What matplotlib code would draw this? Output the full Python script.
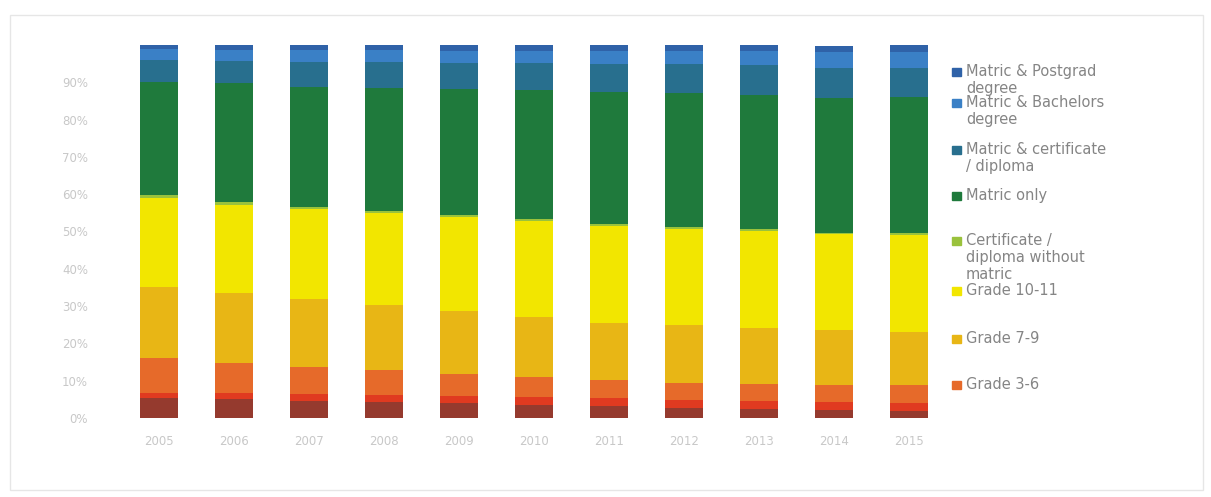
import matplotlib.pyplot as plt
from matplotlib.patches import Rectangle

# data (percent of population)
years = ['2005', '2006', '2007', '2008', '2009', '2010', '2011', '2012', '2013', '2014', '2015']

no_school = [5.4, 5.1, 4.6, 4.3, 4.0, 3.5, 3.2, 2.7, 2.4, 2.1, 1.9]
grade_0_2 = [1.3, 1.6, 1.9, 1.9, 1.9, 2.1, 2.1, 2.1, 2.1, 2.1, 2.1]
grade_3_6 = [9.4, 8.0, 7.2, 6.7, 5.9, 5.4, 4.8, 4.6, 4.6, 4.6, 4.8]
grade_7_9 = [19.0, 18.8, 18.2, 17.4, 16.9, 16.1, 15.5, 15.5, 15.0, 14.7, 14.2]
grade_10_11 = [23.9, 23.6, 24.1, 24.7, 25.2, 25.7, 26.0, 25.7, 26.0, 25.7, 26.0]
cert_no_matric = [0.7, 0.7, 0.6, 0.6, 0.6, 0.6, 0.5, 0.5, 0.5, 0.5, 0.5]
matric_only = [30.4, 32.0, 32.1, 32.9, 33.7, 34.5, 35.2, 36.0, 36.0, 36.2, 36.5]
matric_cert = [5.9, 5.9, 6.7, 7.0, 7.0, 7.2, 7.5, 7.8, 8.0, 8.0, 7.8]
bachelors = [2.8, 3.0, 3.2, 3.2, 3.3, 3.3, 3.5, 3.5, 3.7, 4.1, 4.4]
postgrad = [1.2, 1.3, 1.4, 1.4, 1.5, 1.5, 1.6, 1.6, 1.7, 1.8, 1.8]

# bottom to top
series = [
    (no_school, 'No schooling', '#953a2e'),
    (grade_0_2, 'Grade 0-2', '#e03a20'),
    (grade_3_6, 'Grade 3-6', '#e66a2a'),
    (grade_7_9, 'Grade 7-9', '#e8b615'),
    (grade_10_11, 'Grade 10-11', '#f2e600'),
    (cert_no_matric, 'Certificate /\ndiploma without\nmatric', '#9ac23c'),
    (matric_only, 'Matric only', '#1f7a3c'),
    (matric_cert, 'Matric & certificate\n/ diploma', '#286f8e'),
    (bachelors, 'Matric & Bachelors\ndegree', '#3a80c6'),
    (postgrad, 'Matric & Postgrad\ndegree', '#2f62a8'),
]

W, H = 1211, 497
fig = plt.figure(figsize=(W / 100, H / 100), dpi=100)
ax = fig.add_axes([121.5 / W, (H - 418) / H, 825 / W, 373 / H])

x = list(range(len(years)))
bottom = [0.0] * len(years)
for vals, name, col in series:
    ax.bar(x, vals, width=0.51, bottom=bottom, color=col, linewidth=0)
    bottom = [b + v for b, v in zip(bottom, vals)]

ax.set_xlim(-0.5, len(years) - 0.5)
ax.set_ylim(0, 100)
ax.set_xticks(x)
ax.set_xticklabels(years, fontsize=8.5, color='#c8c8c8')
ax.set_yticks(range(0, 100, 10))
ax.set_yticklabels(['%d%%' % v for v in range(0, 100, 10)], fontsize=8.5, color='#c8c8c8')
ax.tick_params(length=0, axis='y', pad=24)
ax.tick_params(length=0, axis='x', pad=12)
for s in ax.spines.values():
    s.set_visible(False)

# legend drawn by hand (only the first eight entries are shown, top down)
legend_items = list(reversed(series))[:8]
legend_y = [72, 103, 150, 196, 241, 291, 339, 385]
for (vals, name, col), py in zip(legend_items, legend_y):
    fig.patches.append(Rectangle((952 / W, 1 - (py + 4) / H), 9 / W, 8 / H,
                                 transform=fig.transFigure, color=col))
    fig.text(966 / W, 1 - (py - 8) / H, name, fontsize=10.5, color='#858585',
             va='top', ha='left', linespacing=1.15)

# faint outer frame
fig.patches.append(Rectangle((10 / W, 1 - 490 / H), 1193 / W, 475 / H,
                             transform=fig.transFigure, fill=False,
                             edgecolor='#e6e6e6', linewidth=1))

plt.savefig('out.png', dpi=100)
